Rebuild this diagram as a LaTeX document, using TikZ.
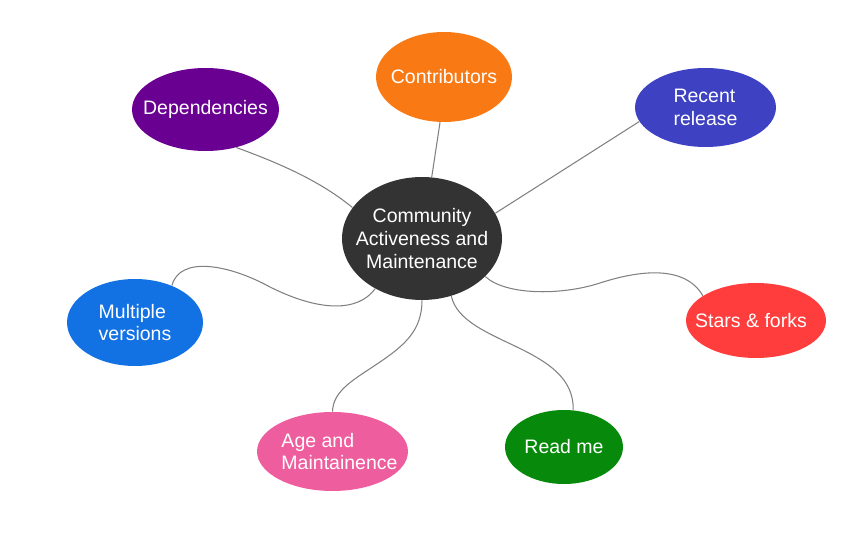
\documentclass[tikz,border=0pt]{standalone}
\usepackage{fontspec}
\setmainfont{Liberation Sans}
\usepackage{tikz}
\usetikzlibrary{shapes.geometric}

\definecolor{hubgray}{HTML}{333333}
\definecolor{contriborange}{HTML}{F97A14}
\definecolor{deppurple}{HTML}{690092}
\definecolor{releaseblue}{HTML}{3D41C2}
\definecolor{starred}{HTML}{FF3D3D}
\definecolor{readgreen}{HTML}{078A0B}
\definecolor{agepink}{HTML}{EE5E9E}
\definecolor{versionblue}{HTML}{1271E3}

\begin{document}
\begin{tikzpicture}[x=0.02cm, y=-0.02cm,
    topic/.style={ellipse, inner sep=-0.3cm, text=white, align=left,
        font=\fontsize{11.1}{13}\selectfont},
    link/.style={draw=black!50, line width=0.6pt}]
    \useasboundingbox (0,0) rectangle (867,540);
    % topics
    \node[topic, fill=hubgray, minimum width=3.2cm, minimum height=2.46cm, align=center] (hub) at (422,238.5) {Community\\Activeness and\\Maintenance};
    \node[topic, fill=contriborange, minimum width=2.72cm, minimum height=1.8cm] (contrib) at (444,77) {Contributors};
    \node[topic, fill=deppurple, minimum width=2.94cm, minimum height=1.66cm] (deps) at (205.5,109.5) {Dependencies};
    \node[topic, fill=releaseblue, minimum width=2.82cm, minimum height=1.58cm] (release) at (705.5,107.5) {Recent\\release};
    \node[topic, fill=starred, minimum width=2.8cm, minimum height=1.5cm] (stars) at (756,320.5) {Stars \& forks\hspace*{0.2cm}};
    \node[topic, fill=readgreen, minimum width=2.36cm, minimum height=1.48cm] (readme) at (564,447) {Read me};
    \node[topic, fill=agepink, minimum width=3.02cm, minimum height=1.58cm] (age) at (332.5,451.5) {\hspace*{0.28cm}Age and\\\hspace*{0.28cm}Maintainence};
    \node[topic, fill=versionblue, minimum width=2.72cm, minimum height=1.74cm] (versions) at (135,322.5) {Multiple\\versions};
    % links
    \draw[link] (deps.309) .. controls (290,167) and (325,185) .. (hub.156);
    \draw[link] (contrib.265) -- (hub.81);
    \draw[link] (release.192) -- (hub.19);
    \draw[link] (hub.329) .. controls (505,295) and (560,296) .. (600,283)
        .. controls (640,270) and (685,265) .. (stars.155);
    \draw[link] (hub.297) .. controls (462,345) and (575,345) .. (readme.76);
    \draw[link] (hub.south) .. controls (422,330) and (405,345) .. (380,362)
        .. controls (355,379) and (333,390) .. (age.north);
    \draw[link] (hub.227) .. controls (358,312) and (320,312) .. (270,287)
        .. controls (230,265) and (180,255) .. (versions.45);
\end{tikzpicture}
\end{document}
